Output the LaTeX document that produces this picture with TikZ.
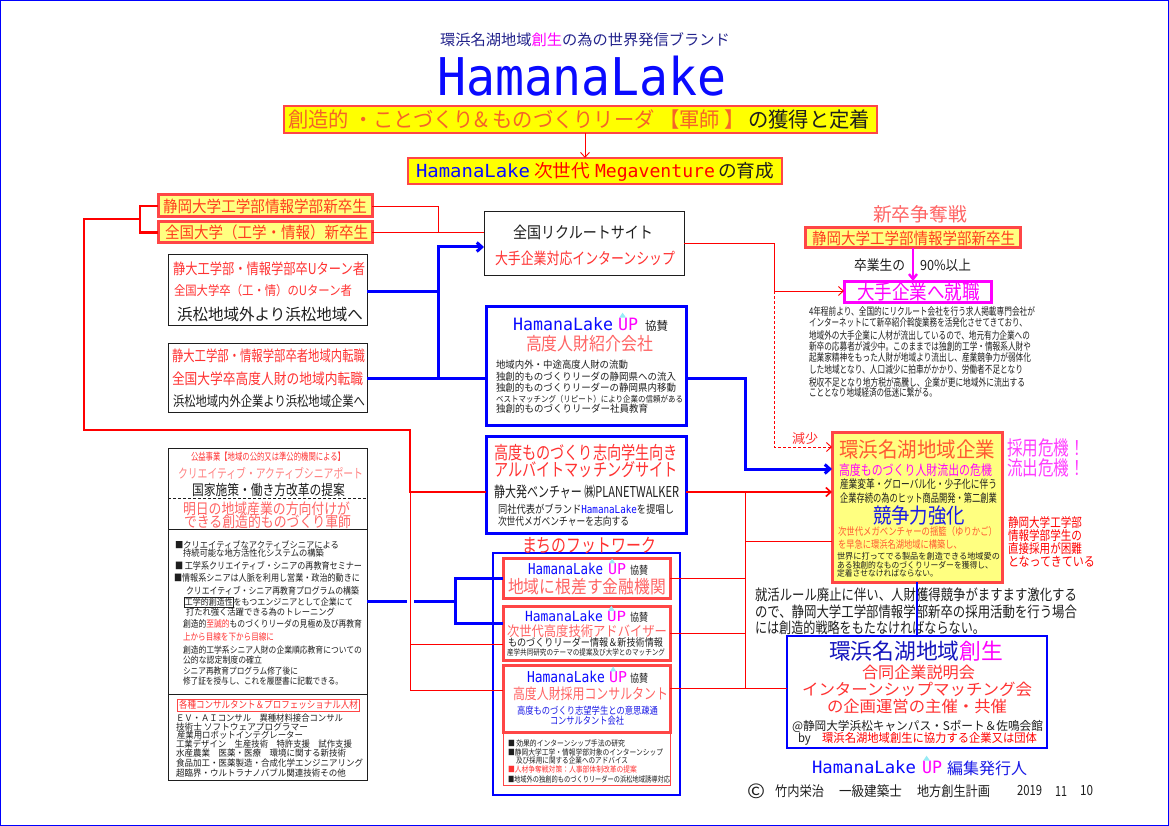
\documentclass[tikz,border=0pt]{standalone}
\usepackage{fontspec}
\setmainfont{Noto Sans CJK JP}
\newfontfamily\mono{DejaVu Sans Mono}
\usepackage{graphicx}
\usetikzlibrary{arrows.meta,calc}
\definecolor{navy}{RGB}{35,35,140}
\definecolor{navy2}{RGB}{20,20,190}
\definecolor{hlblue}{RGB}{10,10,255}
\definecolor{ublue}{RGB}{25,25,230}
\definecolor{rb}{RGB}{255,70,70}
\definecolor{yel}{RGB}{255,255,0}
\definecolor{lyel}{RGB}{255,255,128}
\definecolor{ora}{RGB}{245,100,40}
\definecolor{ora2}{RGB}{255,60,30}
\definecolor{ora3}{RGB}{255,90,50}
\definecolor{pnk}{RGB}{255,100,100}
\definecolor{pnk2}{RGB}{255,130,130}
\definecolor{rd}{RGB}{255,50,50}
\definecolor{mag}{RGB}{255,0,255}
\definecolor{mag2}{RGB}{255,60,255}
\definecolor{dk}{RGB}{30,30,30}
\definecolor{cya}{RGB}{150,235,245}
\newcounter{tl}
\newcommand{\tline}[6]{\stepcounter{tl}\node[txt] (t\arabic{tl}) at (#1,#2) {\fontsize{#4}{#4}\selectfont\color{#5}\resizebox{#3pt}{\height}{#6}};}
\newcommand{\upm}[4]{\stepcounter{tl}\node[txt] (t\arabic{tl}) at (#1,#2) {\fontsize{#4}{#4}\selectfont\mono\color{mag}\resizebox{#3pt}{\height}{UP}};
 \fill[cya] ({#1+0.06*#3},{#2-0.37*#4}) -- ({#1+0.40*#3},{#2-0.37*#4}) -- ({#1+0.23*#3},{#2-0.37*#4-5}) -- cycle;}
\newcommand{\bx}[6]{\node[#1, minimum width={#5-#3}, minimum height={#6-#4}] (#2) at ({(#3+#5)/2},{(#4+#6)/2}) {};}
\begin{document}
\begin{tikzpicture}[x=1pt,y=-1pt,
 txt/.style={anchor=west,inner sep=0pt,outer sep=0pt},
 bxs/.style={inner sep=0pt,outer sep=0pt},
 hbox/.style={bxs,fill=yel,draw=rb,line width=1.5},
 ybox/.style={bxs,fill=lyel,draw=rb,line width=3},
 kbox/.style={bxs,draw=dk,line width=1},
 bbox/.style={bxs,draw=blue,line width=3},
 rbox/.style={bxs,fill=white,draw=rb,line width=3},
 arr/.style={-{Straight Barb[length=5pt,width=9pt]}},
 redthin/.style={draw=red,line width=0.9},
 redmed/.style={draw=red,line width=1.6},
 redthick/.style={draw=red,line width=2.6},
 reddash/.style={draw=red,line width=0.9,dash pattern=on 3pt off 2pt},
 bluethick/.style={draw=blue,line width=3}]
\useasboundingbox (0,0) rectangle (1169,826);
\fill[white] (0,0) rectangle (1169,826);
\draw[blue,line width=1.2] (0,0) rectangle (1169,826);

% ---------- boxes ----------
\bx{hbox}{hb1}{284}{106}{877}{133}
\bx{hbox}{hb2}{408}{158}{782}{184}
\bx{ybox}{nA}{158}{195}{372}{217}
\bx{ybox}{nB}{158}{222}{372}{243}
\bx{kbox}{uturn}{168}{255}{367}{325}
\bx{kbox}{transf}{168}{343}{367}{412}
\bx{kbox}{recruit}{484}{212}{684}{275}
\bx{bbox}{hlbox}{486}{306}{686}{425}
\bx{bbox}{arbeit}{486}{436}{686}{533}
\bx{kbox}{senior}{168}{448}{367}{780}
\node[bxs,draw=blue,line width=1.2,minimum width=187,minimum height=242] (fout) at (586.5,674) {};
\bx{rbox}{fb1}{503}{558}{670}{598}
\bx{rbox}{fb2}{503}{606}{670}{660}
\bx{rbox}{fb3}{503}{665}{670}{732}
\node[bxs,draw=rb,line width=1,minimum width=167,minimum height=52] (fb4) at (586.5,759) {};
\bx{ybox}{rtop}{805}{228}{1020}{248}
\node[bxs,fill=white,draw=mag,line width=3,minimum width=147,minimum height=21] (shu) at (917.5,291.5) {};
\bx{ybox}{ent}{832}{432}{1002}{582}
\node[bxs,draw=blue,line width=2,minimum width=260,minimum height=112] (creat) at (917,692) {};
\node[bxs,draw=rb,line width=1,minimum width=182,minimum height=12] (cbox) at (268,705) {};
\draw[dk,line width=0.8,dash pattern=on 3pt off 2pt] (senior.west |- 0,498) -- (senior.east |- 0,498);
\draw[dk,line width=0.8] (senior.west |- 0,529) -- (senior.east |- 0,529);
\draw[dk,line width=0.8] (senior.west |- 0,694) -- (senior.east |- 0,694);

% ---------- connectors ----------
\coordinate (br) at (140,219);
\coordinate (lc1) at (84,219);
\coordinate (rj) at (410,430);
\coordinate (rv1) at (410,492);
\coordinate (rv2) at (410,690);
\coordinate (bj1) at (438,247);
\coordinate (bj2) at (438,378);
\coordinate (bj3) at (745,469);
\coordinate (bj4) at (455,601);
\coordinate (rj2) at (774,291);
\coordinate (rv3) at (745,492);
\coordinate (rv4) at (745,688);
\coordinate (rA) at (438,206);

\draw[red,line width=0.9,arr] (hb1.south -| 585,0) -- (hb2.north -| 585,0);
\draw[redthick] (nA.west) -| (br) |- (nB.west);
\draw[redthick] (br) -- (lc1) |- (rj) |- (arbeit.west |- rv1);
\draw[redthin] (rv1) -- (rv2) -- (fb3.west |- rv2);
\draw[redthin] (nA.east) -- (rA) -- (rA |- nB.east);
\draw[redthin] (nB.east) -- (recruit.west |- nB.east);

\draw[bluethick,arr] (uturn.east |- 0,291) -| (bj1) -- (recruit.west |- bj1);
\draw[bluethick] (bj1) -- (bj2);
\draw[bluethick] (transf.east |- bj2) -- (hlbox.west |- bj2);
\draw[bluethick,arr] (hlbox.east |- bj2) -| (bj3) -- (ent.west |- bj3);
\draw[bluethick] (senior.east |- bj4) -- (bj4);
\draw[bluethick] (fb1.west |- 0,578) -| (bj4) |- (fb2.west |- 0,623);
\fill[white] (406.5,597) rectangle (413.5,605);
\draw[redthin] (rv1 |- 0,644) -- (fb2.west |- 0,644);
\draw[redthin] (410,596) -- (410,606);

\draw[redthin] (recruit.east) -| (rj2);
\draw[redthin,arr] (rj2) -- (shu.west |- rj2);
\draw[reddash,arr] (rj2) |- (ent.west |- 0,447);
\draw[redmed,arr] (arbeit.east |- rv1) -- (ent.west |- rv1);
\draw[redthin] (rv3) -- (rv4);
\draw[redthin] (rv3 |- 0,541) -- (ent.west |- 0,541);
\draw[redthin] (fb1.east |- 0,578) -- (rv3 |- 0,578);
\draw[redthin] (fb2.east |- 0,633) -- (rv3 |- 0,633);
\draw[redthin] (fb3.east |- rv4) -- (creat.west |- rv4);
\draw[mag,line width=2.4,-{Straight Barb[length=5pt,width=8pt]}] (rtop.south -| 913,0) -- (shu.north -| 913,0);

% ---------- header ----------
\tline{440}{40}{290}{15}{navy}{環浜名湖地域\textcolor{mag}{創生}の為の世界発信ブランド}
\tline{437}{76}{290}{52}{hlblue}{\mono HamanaLake}
\tline{288}{119.5}{457}{21}{ora}{創造的 ・ことづくり\& ものづくりリーダ 【軍師 】}
\tline{748}{119.5}{122}{21}{dk}{の獲得と定着}
\tline{416}{171}{114}{18}{hlblue}{\mono HamanaLake}
\tline{534}{171}{56}{18}{red}{次世代}
\tline{595}{171}{120}{18}{red}{\raisebox{0pt}[\height][0pt]{\mono Megaventure}}
\tline{718}{171}{56}{18}{dk}{の育成}

% ---------- left ----------
\tline{163}{206}{204}{16}{ora2}{静岡大学工学部情報学部新卒生}
\tline{165}{232.5}{203}{16}{ora2}{全国大学（工学・情報）新卒生}
\tline{173}{269}{192}{15}{rd}{静大工学部・情報学部卒Uターン者}
\tline{174}{291}{178}{13}{rd}{全国大学卒（工・情）のUターン者}
\tline{177}{314}{186}{16}{dk}{浜松地域外より浜松地域へ}
\tline{172}{356}{193}{15}{rd}{静大工学部・情報学部卒者地域内転職}
\tline{172}{379}{191}{15}{rd}{全国大学卒高度人財の地域内転職}
\tline{173}{401}{192}{14}{dk}{浜松地域内外企業より浜松地域企業へ}

% ---------- recruit / hl box ----------
\tline{513}{232}{140}{16}{dk}{全国リクルートサイト}
\tline{495}{258}{180}{16}{rd}{大手企業対応インターンシップ}
\tline{513}{324}{100}{17}{hlblue}{\mono HamanaLake}
\upm{618}{324}{20}{17}
\tline{645}{326}{23}{12}{dk}{協賛}
\tline{526}{344}{127}{18}{pnk}{高度人財紹介会社}
\tline{496}{365}{132}{10}{dk}{地域内外・中途高度人財の流動}
\tline{496}{377}{180}{10}{dk}{独創的ものづくりリーダの静岡県への流入}
\tline{496}{388}{180}{10}{dk}{独創的ものづくりリーダーの静岡県内移動}
\tline{496}{399}{187}{8.5}{dk}{ベストマッチング（リピート）により企業の信頼がある}
\tline{496}{409}{152}{10}{dk}{独創的ものづくりリーダー社員教育}

% ---------- arbeit ----------
\tline{494}{453}{184}{18}{rd}{高度ものづくり志向学生向き}
\tline{494}{470}{184}{18}{rd}{アルバイトマッチングサイト}
\tline{494}{492}{185}{15}{dk}{静大発ベンチャー ㈱PLANETWALKER}
\tline{498}{509}{176}{11}{dk}{同社代表がブランド{\mono\color{hlblue}HamanaLake}を提唱し}
\tline{498}{521}{131}{11}{dk}{次世代メガベンチャーを志向する}
\tline{522}{546}{134}{19}{rd}{まちのフットワーク}

% ---------- footwork ----------
\tline{528}{569}{75}{15}{hlblue}{\mono HamanaLake}
\upm{608}{569}{18}{15}
\tline{630}{570}{18}{11}{dk}{協賛}
\tline{508}{587}{158}{18}{pnk}{地域に根差す金融機関}
\tline{525}{616}{78}{14}{hlblue}{\mono HamanaLake}
\upm{607}{616}{19}{14}
\tline{630}{617}{18}{11}{dk}{協賛}
\tline{507}{631.5}{160}{14}{pnk}{次世代高度技術アドバイザー}
\tline{508}{642.5}{155}{10.5}{dk}{ものづくりリーダー情報＆新技術情報}
\tline{507}{652.5}{158}{8}{dk}{産学共同研究のテーマの提案及び大学とのマッチング}
\tline{527}{677}{78}{15}{hlblue}{\mono HamanaLake}
\upm{609}{677}{18}{15}
\tline{630}{678}{18}{11}{dk}{協賛}
\tline{513}{694}{155}{15}{pnk}{高度人財採用コンサルタント}
\tline{517}{711}{141}{10}{ublue}{高度ものづくり志望学生との意思疎通}
\tline{550}{720.5}{74}{10}{ublue}{コンサルタント会社}
\tline{508}{743}{117}{8}{dk}{■ 効果的インターンシップ手法の研究}
\tline{508}{752}{155}{8}{dk}{■静岡大学工学・情報学部対象のインターンシップ}
\tline{516}{760}{112}{8}{dk}{及び採用に関する企業へのアドバイス}
\tline{508}{769}{129}{8}{rd}{■人材争奪戦対策：人事部体制改革の提案}
\tline{508}{779}{162}{8}{dk}{■地域外の独創的ものづくりリーダーの浜松地域誘導対応}

% ---------- right top ----------
\tline{873}{214}{94}{19}{pnk}{新卒争奪戦}
\tline{812}{238}{203}{16}{ora2}{静岡大学工学部情報学部新卒生}
\tline{854}{265}{51}{14}{dk}{卒業生の}
\tline{920}{265}{51}{14}{dk}{90\%以上}
\tline{857}{291.5}{123}{20}{mag}{大手企業へ就職}
\tline{809}{311}{226}{10.5}{dk}{4年程前より、全国的にリクルート会社を行う求人掲載専門会社が}
\tline{809}{323}{218}{10.5}{dk}{インターネットにて新卒紹介斡旋業務を活発化させてきており、}
\tline{809}{335}{221}{10.5}{dk}{地域外の大手企業に人材が流出しているので、地元有力企業への}
\tline{809}{347}{222}{10.5}{dk}{新卒の応募者が減少中。このままでは独創的工学・情報系人財や}
\tline{809}{358}{222}{10.5}{dk}{起業家精神をもった人財が地域より流出し、産業競争力が弱体化}
\tline{809}{370}{214}{10.5}{dk}{した地域となり、人口減少に拍車がかかり、労働者不足となり}
\tline{809}{382}{216}{10.5}{dk}{税収不足となり地方税が高騰し、企業が更に地域外に流出する}
\tline{809}{393}{128}{10.5}{dk}{こととなり地域経済の低迷に繋がる。}
\tline{792}{439}{26}{13}{rd}{減少}

% ---------- enterprise ----------
\tline{839}{450}{156}{21}{ora3}{環浜名湖地域企業}
\tline{839}{470}{153}{14}{mag}{高度ものづくり人財流出の危機}
\tline{840}{484}{157}{11.5}{dk}{産業変革・グローバル化・少子化に伴う}
\tline{840}{498}{157}{11.5}{dk}{企業存続の為のヒット商品開発・第二創業}
\tline{873}{516}{92}{21}{ublue}{競争力強化}
\tline{838}{532}{159}{10.5}{ora3}{次世代メガベンチャーの揺籃（ゆりかご）}
\tline{838}{544}{124}{10.5}{ora3}{を早急に環浜名湖地域に構築し、}
\tline{837}{556}{163}{8.5}{dk}{世界に打ってでる製品を創造できる地域愛の}
\tline{837}{565}{156}{8.5}{dk}{ある独創的なものづくりリーダーを獲得し、}
\tline{837}{573.5}{101}{8.5}{dk}{定着させなければならない。}
\tline{1007}{448}{78}{20}{mag2}{採用危機！}
\tline{1007}{468}{78}{20}{mag2}{流出危機！}
\tline{1008}{523}{74}{13}{red}{静岡大学工学部}
\tline{1008}{536}{74}{13}{red}{情報学部学生の}
\tline{1008}{549}{74}{13}{red}{直接採用が困難}
\tline{1008}{562}{87}{13}{red}{となってきている}
\tline{755}{595}{322}{15}{dk}{就活ルール廃止に伴い、人財獲得競争がますます激化する}
\tline{755}{612}{322}{15}{dk}{ので、静岡大学工学部情報学部新卒の採用活動を行う場合}
\tline{755}{628}{230}{15}{dk}{には創造的戦略をもたなければならない。}
\draw[blue,line width=1.2] (ent.south) -- (creat.north);

% ---------- creation ----------
\tline{829}{651}{174}{22}{navy2}{環浜名湖地域\textcolor{mag}{創生}}
\tline{862}{672}{113}{16}{rd}{合同企業説明会}
\tline{802}{689}{230}{16}{rd}{インターンシップマッチング会}
\tline{827}{706}{180}{16}{rd}{の企画運営の主催・共催}
\tline{792}{726}{251}{12}{dk}{@静岡大学浜松キャンパス・Sポート＆佐鳴会館}
\tline{798}{738.5}{239}{12}{dk}{by\quad\textcolor{red}{環浜名湖地域創生に協力する企業又は団体}}
\tline{812}{767}{104}{17}{hlblue}{\mono HamanaLake}
\upm{922}{767}{20}{17}
\tline{947}{768}{80}{16}{ublue}{編集発行人}
\tline{747}{791}{18}{20}{dk}{©}
\tline{775}{791}{49}{14}{dk}{竹内栄治}
\tline{839}{791}{63}{14}{dk}{一級建築士}
\tline{917}{791}{73}{14}{dk}{地方創生計画}
\tline{1017}{791}{25}{14}{dk}{2019}
\tline{1055}{791}{12}{14}{dk}{11}
\tline{1080}{791}{13}{14}{dk}{10}

% ---------- senior ----------
\tline{191}{457}{154}{10}{rd}{公益事業【地域の公的又は準公的機関による】}
\tline{178}{473}{185}{13}{pnk2}{クリエイティブ・アクティブシニアポート}
\tline{192}{490}{153}{14.5}{dk}{国家施策・働き方改革の提案}
\tline{183}{509}{167}{15}{pnk}{明日の地域産業の方向付けが}
\tline{184}{522}{167}{15}{pnk}{できる創造的ものづくり軍師}
\tline{175}{544.5}{164}{9}{dk}{■クリエイティブなアクティブシニアによる}
\tline{183}{553.5}{141}{9}{dk}{持続可能な地方活性化システムの構築}
\tline{175}{566}{187}{9.5}{dk}{■ 工学系クリエイティブ・シニアの再教育セミナー}
\tline{174}{578}{186}{9.5}{dk}{■情報系シニアは人脈を利用し営業・政治的動きに}
\tline{186}{591}{173}{9.5}{dk}{クリエイティブ・シニア再教育プログラムの構築}
\tline{184}{602.5}{169}{9}{dk}{{\fboxsep=0.3pt\fboxrule=0.6pt\fbox{工学的創造性}}をもつエンジニアとして企業にて}
\tline{186}{612.5}{149}{9}{dk}{打たれ強く活躍できる為のトレーニング}
\tline{183}{624}{179}{9.5}{dk}{創造的\textcolor{rd}{至誠的}ものづくりリーダの見極め及び再教育}
\tline{183}{637}{91}{9.5}{rd}{上から目線を下から目線に}
\tline{183}{650.5}{179}{9}{dk}{創造的工学系シニア人財の企業順応教育についての}
\tline{183}{660}{79}{9}{dk}{公的な認定制度の確立}
\tline{183}{671.5}{115}{9}{dk}{シニア再教育プログラム修了後に}
\tline{183}{681}{160}{9}{dk}{修了証を授与し、これを履歴書に記載できる。}
\tline{179}{705}{179}{10}{rd}{各種コンサルタント＆プロフェッショナル人材}
\tline{176}{718}{167}{9}{dk}{ＥＶ・ＡＩコンサル　異種材料接合コンサル}
\tline{176}{727}{132}{9}{dk}{技術士 ソフトウェアプログラマー}
\tline{177}{735.5}{126}{9}{dk}{産業用ロボットインテグレーター}
\tline{176}{744.5}{176}{9}{dk}{工業デザイン　生産技術　特許支援　試作支援}
\tline{176}{753.5}{170}{9}{dk}{水産農業　医薬・医療　環境に関する新技術}
\tline{176}{763}{187}{9}{dk}{食品加工・医薬製造・合成化学エンジニアリング}
\tline{176}{773}{170}{9}{dk}{超臨界・ウルトラナノバブル関連技術その他}
\end{tikzpicture}
\end{document}
